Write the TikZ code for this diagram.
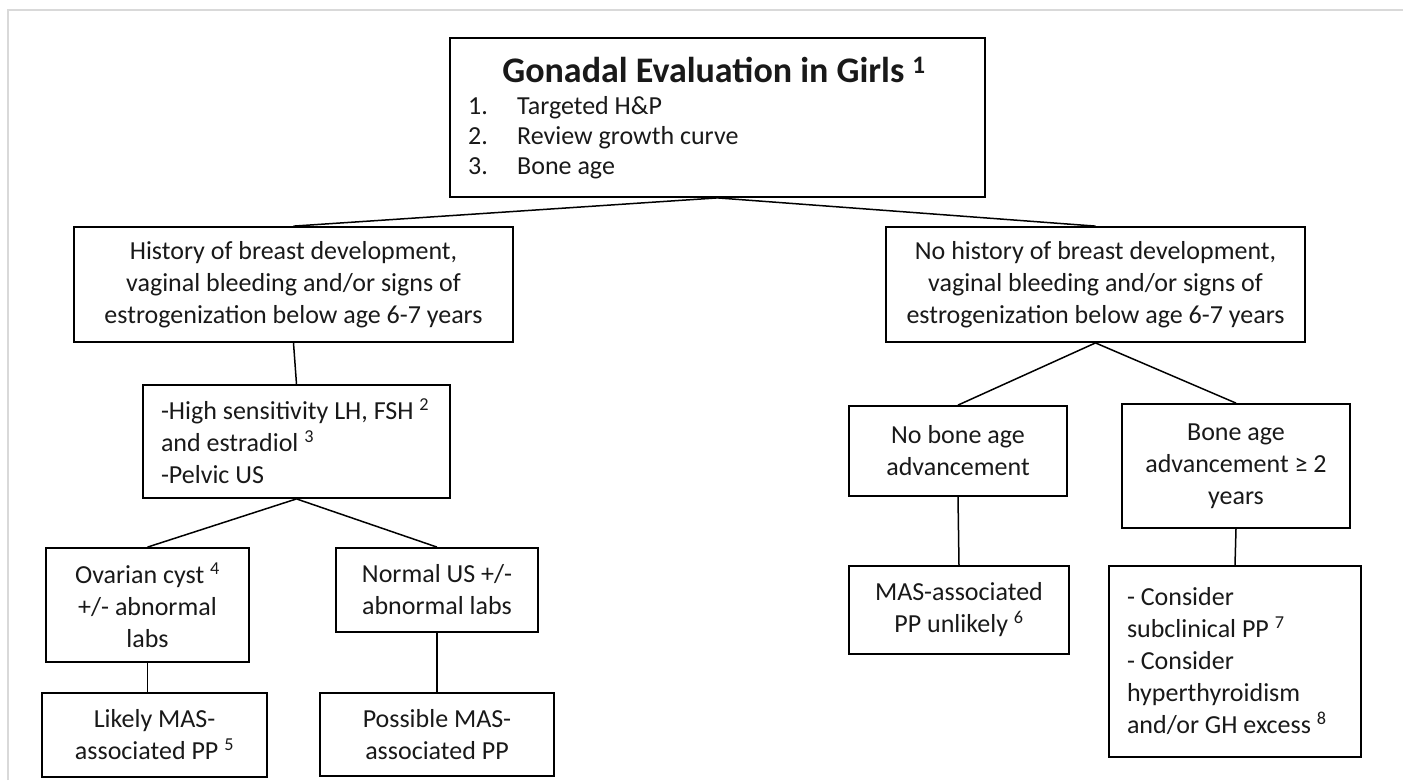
\documentclass[tikz,border=0pt]{standalone}
\usepackage{fontspec}
\setmainfont{Carlito}
\begin{document}
\begin{tikzpicture}[x=1pt,y=-1pt,
  box/.style={draw=black, line width=1.8pt, inner sep=4pt,
    font=\fontsize{26}{32}\selectfont, text=black!90},
  cbox/.style={box, align=center},
  lbox/.style={box, align=flush left, inner xsep=18pt},
  link/.style={draw=black, line width=1.5pt}]
\useasboundingbox (0,0) rectangle (1403,780);

% page frame
\draw[black!15, line width=1.5pt] (8,780) -- (8,10) -- (1403,10);

% root box with title and steps
\node[box, minimum width=535pt, minimum height=159pt] (top) at (717.5,117.5) {};
\node[inner sep=0pt, font=\fontsize{36}{40}\selectfont\bfseries, text=black!90] (title) at (714,70)
  {Gonadal Evaluation in Girls \textsuperscript{1}};
\node[inner sep=0pt, anchor=west, align=left, font=\fontsize{26}{30}\selectfont, text=black!90] (steps) at (468,138)
  {\makebox[49pt][l]{1.}Targeted H\&P\\
   \makebox[49pt][l]{2.}Review growth curve\\
   \makebox[49pt][l]{3.}Bone age};

% first level
\node[cbox, minimum width=439pt, minimum height=115pt] (l1) at (293.5,284.5)
  {History of breast development,\\vaginal bleeding and/or signs of\\estrogenization below age 6-7 years};
\node[cbox, minimum width=419pt, minimum height=115pt] (r1) at (1095.5,284.5)
  {No history of breast development,\\vaginal bleeding and/or signs of\\estrogenization below age 6-7 years};

% left branch
\node[lbox, text width=271pt, minimum height=113pt] (l2) at (296.5,441.5)
  {\mbox{-High sensitivity LH, FSH \textsuperscript{2}}\\\mbox{and estradiol \textsuperscript{3}}\\\mbox{-Pelvic US}};
\node[cbox, minimum width=203pt, minimum height=114pt] (l3a) at (147.5,605)
  {Ovarian cyst \textsuperscript{4}\\+/- abnormal\\labs};
\node[cbox, minimum width=202pt, minimum height=84pt] (l3b) at (437,590)
  {Normal US +/-\\abnormal labs};
\node[cbox, minimum width=225pt, minimum height=84pt] (l4a) at (154.5,735)
  {Likely MAS-\\associated PP \textsuperscript{5}};
\node[cbox, minimum width=234pt, minimum height=83pt] (l4b) at (437,734.5)
  {Possible MAS-\\associated PP};

% right branch
\node[cbox, minimum width=218pt, minimum height=90pt] (r2a) at (958,451)
  {No bone age\\advancement};
\node[cbox, minimum width=228pt, minimum height=124pt] (r2b) at (1236,466)
  {Bone age\\advancement ≥ 2\\years};
\node[cbox, minimum width=220pt, minimum height=88pt] (r3a) at (959,610)
  {MAS-associated\\PP unlikely \textsuperscript{6}};
\node[lbox, text width=216pt, minimum height=191pt] (r3b) at (1235,661.5)
  {\mbox{- Consider}\\\mbox{subclinical PP \textsuperscript{7}}\\\mbox{- Consider}\\\mbox{hyperthyroidism}\\\mbox{and/or GH excess \textsuperscript{8}}};

% connectors
\draw[link] (top.south) -- (l1.north);
\draw[link] (top.south) -- (r1.north);
\draw[link] (l1.south) -- (l2.north);
\draw[link] (l2.south) -- (l3a.north);
\draw[link] (l2.south) -- (l3b.north);
\draw[link] (l3a.south) -- (l3a.south |- l4a.north);
\draw[link] (l3b.south) -- (l4b.north);
\draw[link] (r1.south) -- (r2a.north);
\draw[link] (r1.south) -- (r2b.north);
\draw[link] (r2a.south) -- (r3a.north);
\draw[link] (r2b.south) -- (r3b.north);
\end{tikzpicture}
\end{document}
